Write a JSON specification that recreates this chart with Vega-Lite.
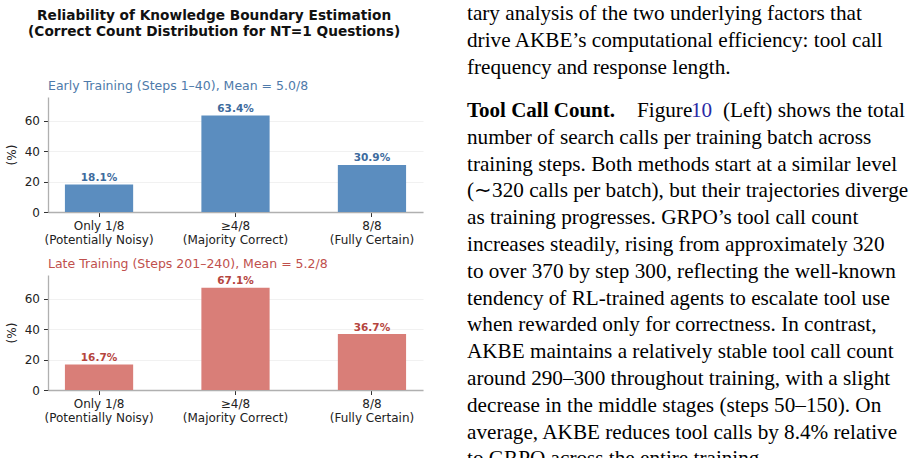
{
  "$schema": "https://vega.github.io/schema/vega-lite/v6.json",
  "padding": {"left": 5, "top": 3, "right": 0, "bottom": 0},
  "background": "white",
  "config": {"view": {"stroke": null}, "font": "DejaVu Sans"},
  "datasets": {
    "bars": [
      {"period": "Early", "category": "Only 1/8|(Potentially Noisy)", "value": 18.1},
      {"period": "Early", "category": "≥4/8|(Majority Correct)", "value": 63.4},
      {"period": "Early", "category": "8/8|(Fully Certain)", "value": 30.9},
      {"period": "Late", "category": "Only 1/8|(Potentially Noisy)", "value": 16.7},
      {"period": "Late", "category": "≥4/8|(Majority Correct)", "value": 67.1},
      {"period": "Late", "category": "8/8|(Fully Certain)", "value": 36.7}
    ],
    "lines": [
      {"seg": "p1", "line": 1, "text": "tary analysis of the two underlying factors that"},
      {"seg": "p1", "line": 2, "text": "drive AKBE’s computational efficiency: tool call"},
      {"seg": "p1", "line": 3, "text": "frequency and response length."},
      {"seg": "head", "line": 5, "text": "Tool Call Count."},
      {"seg": "fig", "line": 5, "text": "Figure"},
      {"seg": "link", "line": 5, "text": "10"},
      {"seg": "rest", "line": 5, "text": "(Left) shows the total"},
      {"seg": "p2", "line": 6, "text": "number of search calls per training batch across"},
      {"seg": "p2", "line": 7, "text": "training steps. Both methods start at a similar level"},
      {"seg": "p2", "line": 8, "text": "(∼320 calls per batch), but their trajectories diverge"},
      {"seg": "p2", "line": 9, "text": "as training progresses.  GRPO’s tool call count"},
      {"seg": "p2", "line": 10, "text": "increases steadily, rising from approximately 320"},
      {"seg": "p2", "line": 11, "text": "to over 370 by step 300, reflecting the well-known"},
      {"seg": "p2", "line": 12, "text": "tendency of RL-trained agents to escalate tool use"},
      {"seg": "p2", "line": 13, "text": "when rewarded only for correctness.  In contrast,"},
      {"seg": "p2", "line": 14, "text": "AKBE maintains a relatively stable tool call count"},
      {"seg": "p2", "line": 15, "text": "around 290–300 throughout training, with a slight"},
      {"seg": "p2", "line": 16, "text": "decrease in the middle stages (steps 50–150).  On"},
      {"seg": "p2", "line": 17, "text": "average, AKBE reduces tool calls by 8.4% relative"},
      {"seg": "p2", "line": 18, "text": "to GRPO across the entire training."}
    ]
  },
  "hconcat": [
    {
      "title": {
        "text": ["Reliability of Knowledge Boundary Estimation", "(Correct Count Distribution for NT=1 Questions)"],
        "fontSize": 13.7, "fontWeight": "bold", "font": "DejaVu Sans", "color": "#111111",
        "anchor": "middle", "offset": 41, "lineHeight": 16
      },
      "spacing": 11,
      "vconcat": [
        {
          "width": 375, "height": 115,
          "title": {"text": "Early Training (Steps 1–40), Mean = 5.0/8", "anchor": "start", "frame": "group", "color": "#4e7aaa", "fontSize": 12.5, "fontWeight": "normal", "offset": 5},
          "data": {"name": "bars"},
          "transform": [
            {"filter": "datum.period == 'Early'"},
            {"calculate": "format(datum.value, '.1f') + '%'", "as": "lbl"}
          ],
          "encoding": {
            "x": {"field": "category", "type": "nominal", "sort": null,
              "scale": {"paddingInner": 0.5, "paddingOuter": 0.124},
              "axis": {"title": null, "labelAngle": 0, "labelExpr": "split(datum.label, '|')", "labelFontSize": 12, "labelColor": "#222222", "labelLineHeight": 14, "labelPadding": 4, "tickSize": 4.5, "tickColor": "#333333", "domainColor": "#b0b0b0", "domainWidth": 1.3, "bandPosition": 0.5, "grid": false}},
            "y": {"field": "value", "type": "quantitative",
              "scale": {"domain": [0, 75.5], "nice": false},
              "axis": {"title": "(%)", "titleFontSize": 12, "titleFontWeight": "normal", "titleColor": "#222222", "titlePadding": 6, "values": [0, 20, 40, 60], "labelFontSize": 12, "labelColor": "#222222", "labelPadding": 4, "tickSize": 4.5, "tickColor": "#333333", "domainColor": "#b0b0b0", "domainWidth": 1.3, "grid": true, "gridColor": "#eeeeee", "gridWidth": 0.8}}
          },
          "layer": [
            {"mark": {"type": "bar", "color": "#5b8dbf"}},
            {"mark": {"type": "text", "color": "#3e6b9d", "fontWeight": "bold", "fontSize": 10.5, "dy": -3.5, "baseline": "alphabetic"}, "encoding": {"text": {"field": "lbl"}}}
          ]
        },
        {
          "width": 375, "height": 115,
          "title": {"text": "Late Training (Steps 201–240), Mean = 5.2/8", "anchor": "start", "frame": "group", "color": "#c0504d", "fontSize": 12.5, "fontWeight": "normal", "offset": 5},
          "data": {"name": "bars"},
          "transform": [
            {"filter": "datum.period == 'Late'"},
            {"calculate": "format(datum.value, '.1f') + '%'", "as": "lbl"}
          ],
          "encoding": {
            "x": {"field": "category", "type": "nominal", "sort": null,
              "scale": {"paddingInner": 0.5, "paddingOuter": 0.124},
              "axis": {"title": null, "labelAngle": 0, "labelExpr": "split(datum.label, '|')", "labelFontSize": 12, "labelColor": "#222222", "labelLineHeight": 14, "labelPadding": 4, "tickSize": 4.5, "tickColor": "#333333", "domainColor": "#b0b0b0", "domainWidth": 1.3, "bandPosition": 0.5, "grid": false}},
            "y": {"field": "value", "type": "quantitative",
              "scale": {"domain": [0, 75.5], "nice": false},
              "axis": {"title": "(%)", "titleFontSize": 12, "titleFontWeight": "normal", "titleColor": "#222222", "titlePadding": 6, "values": [0, 20, 40, 60], "labelFontSize": 12, "labelColor": "#222222", "labelPadding": 4, "tickSize": 4.5, "tickColor": "#333333", "domainColor": "#b0b0b0", "domainWidth": 1.3, "grid": true, "gridColor": "#eeeeee", "gridWidth": 0.8}}
          },
          "layer": [
            {"mark": {"type": "bar", "color": "#d97e78"}},
            {"mark": {"type": "text", "color": "#b5453e", "fontWeight": "bold", "fontSize": 10.5, "dy": -3.5, "baseline": "alphabetic"}, "encoding": {"text": {"field": "lbl"}}}
          ]
        }
      ]
    },
    {
      "width": 444, "height": 361,
      "data": {"name": "lines"},
      "encoding": {
        "y": {"field": "line", "type": "quantitative", "scale": {"domain": [3.8731, 17.3433], "reverse": true, "nice": false, "zero": false}, "axis": null},
        "x": {"datum": 0, "type": "quantitative", "scale": {"domain": [0, 1]}, "axis": null},
        "text": {"field": "text"}
      },
      "layer": [
        {"transform": [{"filter": "datum.seg == 'p1'"}], "mark": {"type": "text", "align": "left", "baseline": "alphabetic", "font": "Liberation Serif", "fontSize": 21.2, "color": "#000000"}},
        {"transform": [{"filter": "datum.seg == 'p2'"}], "mark": {"type": "text", "align": "left", "baseline": "alphabetic", "font": "Liberation Serif", "fontSize": 21.2, "color": "#000000", "dy": -10.2, "clip": true}},
        {"transform": [{"filter": "datum.seg == 'head'"}], "mark": {"type": "text", "align": "left", "baseline": "alphabetic", "font": "Liberation Serif", "fontSize": 21, "fontWeight": "bold", "color": "#000000", "dy": -10.2}},
        {"transform": [{"filter": "datum.seg == 'fig'"}], "mark": {"type": "text", "align": "left", "baseline": "alphabetic", "font": "Liberation Serif", "fontSize": 21.2, "color": "#000000", "dx": 170, "dy": -10.2}},
        {"transform": [{"filter": "datum.seg == 'link'"}], "mark": {"type": "text", "align": "left", "baseline": "alphabetic", "font": "Liberation Serif", "fontSize": 21.2, "color": "#2a2aa5", "dx": 224, "dy": -10.2}},
        {"transform": [{"filter": "datum.seg == 'rest'"}], "mark": {"type": "text", "align": "left", "baseline": "alphabetic", "font": "Liberation Serif", "fontSize": 21.2, "color": "#000000", "dx": 256, "dy": -10.2}}
      ]
    }
  ],
  "spacing": 44
}
